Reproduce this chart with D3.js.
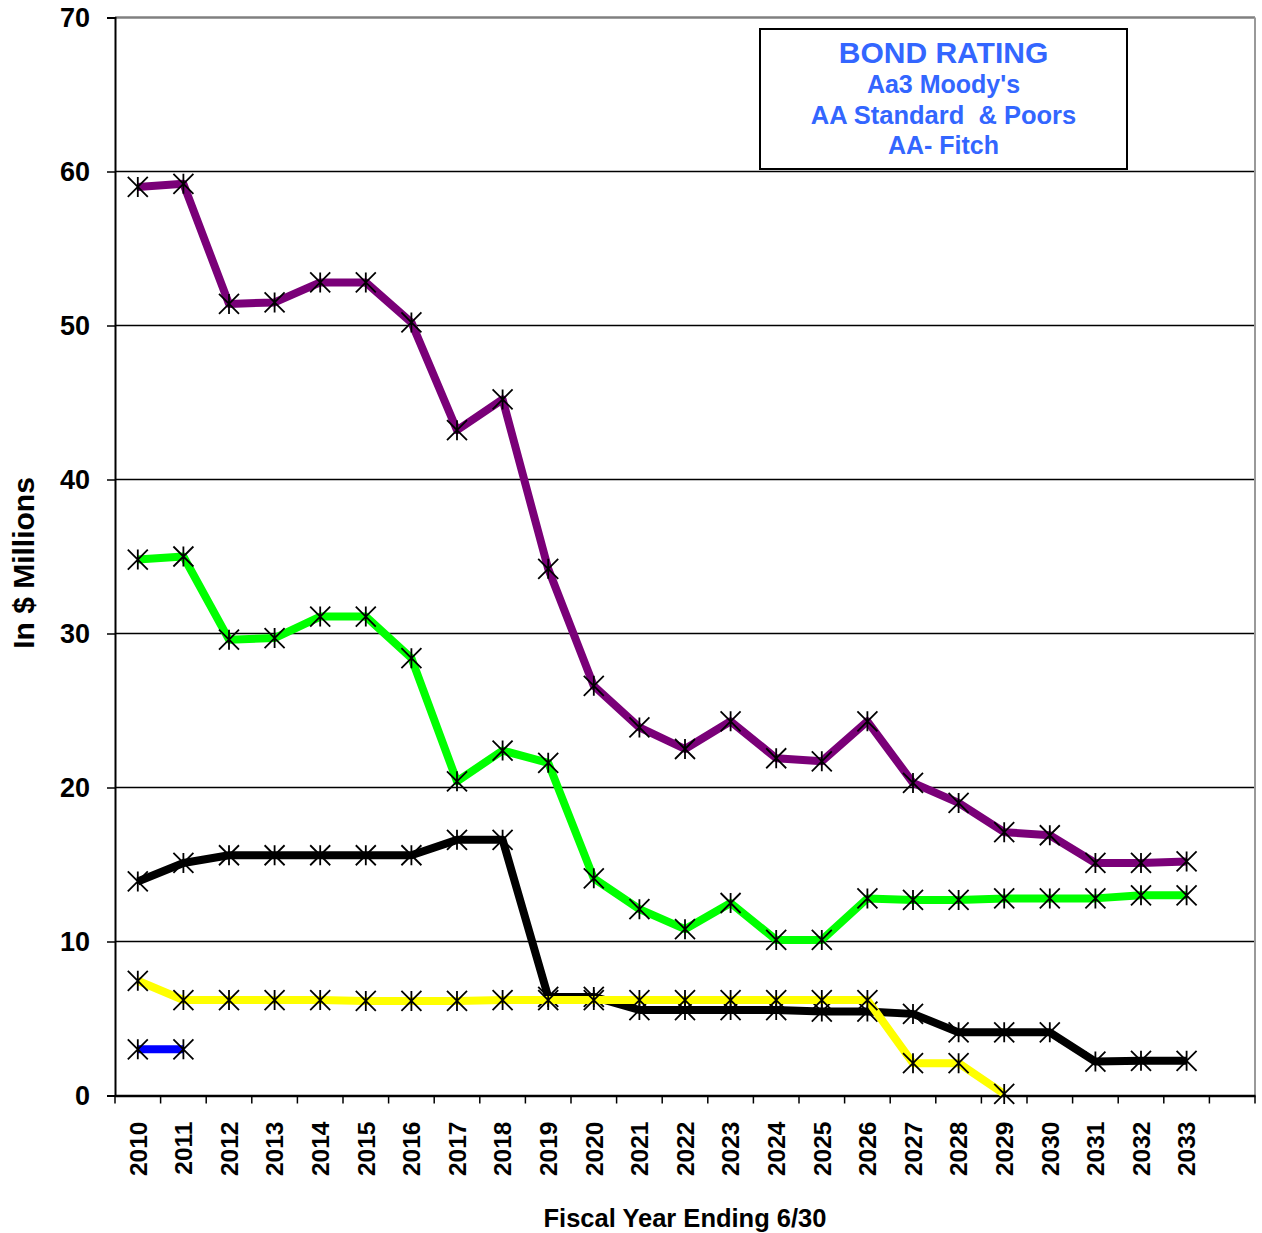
<!DOCTYPE html>
<html>
<head>
<meta charset="utf-8">
<script src="https://cdn.jsdelivr.net/npm/d3@7/dist/d3.min.js"></script>
<style>
  html, body { margin: 0; padding: 0; background: #fff; }
  svg { display: block; font-family: "Liberation Sans", Arial, sans-serif; }
</style>
</head>
<body>
<svg id="chart" width="1262" height="1233"></svg>
<script>
const years = ["2010","2011","2012","2013","2014","2015","2016","2017","2018","2019","2020","2021","2022","2023","2024","2025","2026","2027","2028","2029","2030","2031","2032","2033"];
const slots = years.concat(["2034"]);
const purpleVals = [59.0,59.2,51.4,51.5,52.8,52.8,50.2,43.2,45.2,34.2,26.6,23.9,22.5,24.3,21.9,21.7,24.3,20.3,19.0,17.1,16.9,15.1,15.1,15.2];
const greenVals  = [34.8,35.0,29.6,29.7,31.1,31.1,28.4,20.4,22.4,21.6,14.1,12.1,10.8,12.5,10.1,10.1,12.8,12.7,12.7,12.8,12.8,12.8,13.0,13.0];
const blackVals  = [13.9,15.1,15.6,15.6,15.6,15.6,15.6,16.6,16.6,6.4,6.4,5.55,5.55,5.55,5.55,5.45,5.45,5.3,4.1,4.1,4.1,2.2,2.25,2.25];
const yellowVals = [7.45,6.2,6.2,6.2,6.2,6.14,6.14,6.14,6.2,6.2,6.2,6.2,6.2,6.2,6.2,6.2,6.2,2.1,2.1,0.1];
const blueVals   = [3.0,3.0];
const yTicks = [0,10,20,30,40,50,60,70];
const ratingLines = ["BOND RATING","Aa3 Moody's","AA Standard  & Poors","AA- Fitch"];

const series = [
  {vals: purpleVals, color: "#7a0078"},
  {vals: greenVals,  color: "#00ff00"},
  {vals: blackVals,  color: "#000000"},
  {vals: yellowVals, color: "#ffff00"},
  {vals: blueVals,   color: "#0000ff"}
];

const svg = d3.select("#chart");
const L = 115, R = 1255, T = 17.5, B = 1095.5;

const x = d3.scaleBand().domain(slots).range([L, R]).paddingInner(0).paddingOuter(0);
const y = d3.scaleLinear().domain([0, 70]).range([B, T]);

// gridlines
svg.append("g").selectAll("line").data(yTicks.filter(d => d > 0)).join("line")
  .attr("x1", L).attr("x2", R)
  .attr("y1", d => y(d)).attr("y2", d => y(d))
  .attr("stroke", d => d === 70 ? "#808080" : "#000").attr("stroke-width", d => d === 70 ? 2.5 : 1.5);

// right border
svg.append("line").attr("x1", R).attr("x2", R).attr("y1", T).attr("y2", B)
  .attr("stroke", "#999").attr("stroke-width", 2);

// y axis
const yAxis = d3.axisLeft(y).tickValues(yTicks).tickSize(8).tickPadding(17);
const gy = svg.append("g").attr("transform", `translate(${L},0)`).call(yAxis);
gy.select(".domain").attr("stroke", "#000").attr("stroke-width", 2);
gy.selectAll(".tick line").attr("stroke", "#000").attr("stroke-width", 1.5);
gy.selectAll(".tick text").attr("font-size", 27).attr("font-weight", "bold").attr("fill", "#000")
  .attr("font-family", "Liberation Sans, Arial, sans-serif");

// x axis
const xAxis = d3.axisBottom(x).tickSize(0).tickFormat(d => d === "2034" ? "" : d);
const gx = svg.append("g").attr("transform", `translate(0,${B})`).call(xAxis);
gx.select(".domain").attr("stroke", "#000").attr("stroke-width", 2.5);
gx.selectAll(".tick text")
  .attr("font-size", 24.5).attr("font-weight", "bold").attr("fill", "#000")
  .attr("font-family", "Liberation Sans, Arial, sans-serif")
  .attr("transform", "translate(0,26) rotate(-90)")
  .attr("text-anchor", "end").attr("x", 0).attr("y", 0).attr("dy", "0.36em");
// boundary ticks
const bounds = slots.map(s => x(s)).concat([R]);
svg.append("g").selectAll("line").data(bounds).join("line")
  .attr("x1", d => d).attr("x2", d => d)
  .attr("y1", B).attr("y2", B + 8)
  .attr("stroke", "#000").attr("stroke-width", 1.5);

// lines & markers
const cx = i => x(years[i]) + x.bandwidth() / 2;
const line = d3.line().x((d, i) => cx(i)).y(d => y(d));
const star = (g, px, py) => {
  const s = 10;
  g.append("path")
    .attr("d", `M${px - s},${py - s}L${px + s},${py + s}M${px - s},${py + s}L${px + s},${py - s}M${px},${py - s}L${px},${py + s}`)
    .attr("stroke", "#000").attr("stroke-width", 1.8).attr("fill", "none");
};
series.forEach(sr => {
  const g = svg.append("g");
  g.append("path").datum(sr.vals).attr("d", line)
    .attr("fill", "none").attr("stroke", sr.color).attr("stroke-width", 8)
    .attr("stroke-linejoin", "round");
  sr.vals.forEach((v, i) => star(g, cx(i), y(v)));
});

// bond rating box
const bx = 760, by = 29, bw = 367, bh = 140;
svg.append("rect").attr("x", bx).attr("y", by).attr("width", bw).attr("height", bh)
  .attr("fill", "#fff").attr("stroke", "#000").attr("stroke-width", 2);
const rt = svg.append("g").attr("fill", "#3366ff").attr("font-weight", "bold").attr("text-anchor", "middle");
const baselines = [63, 93, 124, 154];
const sizes = [30, 25, 25.5, 25];
ratingLines.forEach((t, i) => {
  rt.append("text").attr("x", bx + bw / 2).attr("y", baselines[i]).attr("font-size", sizes[i])
    .attr("xml:space", "preserve").style("white-space", "pre").text(t);
});

// axis titles
svg.append("text").attr("x", 685).attr("y", 1227).attr("text-anchor", "middle")
  .attr("font-size", 25.5).attr("font-weight", "bold").text("Fiscal Year Ending 6/30");
svg.append("text").attr("transform", "translate(34,563) rotate(-90)").attr("text-anchor", "middle")
  .attr("font-size", 30).attr("font-weight", "bold").text("In $ Millions");
</script>
</body>
</html>
